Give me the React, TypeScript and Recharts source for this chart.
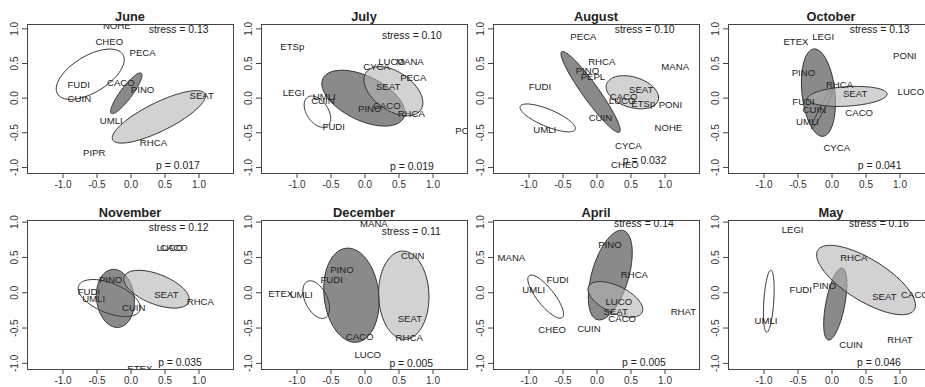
import React from "react"
import { ScatterChart, Scatter, XAxis, YAxis } from "recharts"

// panel titles and statistics, in drawing order (top row, then bottom row)
const months = ["June", "July", "August", "October", "November", "December", "April", "May"]
const stressValues = ["0.13", "0.10", "0.10", "0.13", "0.12", "0.11", "0.14", "0.16"]
const pValues = ["0.017", "0.019", "0.032", "0.041", "0.035", "0.005", "0.005", "0.046"]
const stressAt = [[0.7, 0.99], [0.69, 0.9], [0.7, 0.99], [0.7, 0.99], [0.7, 0.925], [0.68, 0.865], [0.69, 0.985], [0.69, 0.98]]
const pAt = [[0.69, -0.97], [0.69, -0.98], [0.7, -0.9], [0.7, -0.97], [0.72, -0.99], [0.68, -0.995], [0.69, -0.98], [0.69, -0.985]]

const axisTicks = [-1, -0.5, 0, 0.5, 1]

// species scores (NMDS1, NMDS2)
const juneLabels = [
  { name: "NOHE", x: -0.21, y: 1.05 }, { name: "CHEO", x: -0.32, y: 0.81 }, { name: "PECA", x: 0.17, y: 0.66 },
  { name: "FUDI", x: -0.77, y: 0.2 }, { name: "CACO", x: -0.15, y: 0.23 }, { name: "PINO", x: 0.17, y: 0.12 },
  { name: "CUIN", x: -0.76, y: 0.0 }, { name: "SEAT", x: 1.04, y: 0.03 }, { name: "UMLI", x: -0.29, y: -0.32 },
  { name: "RHCA", x: 0.33, y: -0.64 }, { name: "PIPR", x: -0.54, y: -0.79 },
]
const julyLabels = [
  { name: "ETSp", x: -1.07, y: 0.74 }, { name: "CYCA", x: 0.17, y: 0.46 }, { name: "LUCO", x: 0.39, y: 0.52 },
  { name: "MANA", x: 0.66, y: 0.52 }, { name: "PECA", x: 0.71, y: 0.3 }, { name: "SEAT", x: 0.34, y: 0.165 },
  { name: "LEGI", x: -1.05, y: 0.08 }, { name: "UMLI", x: -0.6, y: 0.02 }, { name: "CUIN", x: -0.62, y: -0.04 },
  { name: "CACO", x: 0.32, y: -0.11 }, { name: "PINO", x: 0.07, y: -0.15 }, { name: "RHCA", x: 0.68, y: -0.23 },
  { name: "FUDI", x: -0.46, y: -0.41 }, { name: "PONI", x: 1.5, y: -0.47 },
]
const augustLabels = [
  { name: "PECA", x: -0.2, y: 0.89 }, { name: "RHCA", x: 0.07, y: 0.53 }, { name: "MANA", x: 1.15, y: 0.45 },
  { name: "PINO", x: -0.14, y: 0.39 }, { name: "PEPL", x: -0.06, y: 0.31 }, { name: "FUDI", x: -0.84, y: 0.17 },
  { name: "SEAT", x: 0.65, y: 0.13 }, { name: "CACO", x: 0.39, y: 0.02 }, { name: "LUCO", x: 0.37, y: -0.04 },
  { name: "ETSp", x: 0.68, y: -0.08 }, { name: "PONI", x: 1.08, y: -0.09 }, { name: "CUIN", x: 0.05, y: -0.28 },
  { name: "UMLI", x: -0.77, y: -0.45 }, { name: "NOHE", x: 1.05, y: -0.43 }, { name: "CYCA", x: 0.46, y: -0.68 },
  { name: "CHEO", x: 0.41, y: -0.96 },
]
const octoberLabels = [
  { name: "ETEX", x: -0.53, y: 0.81 }, { name: "LEGI", x: -0.13, y: 0.89 }, { name: "PONI", x: 1.07, y: 0.62 },
  { name: "PINO", x: -0.42, y: 0.37 }, { name: "RHCA", x: 0.11, y: 0.2 }, { name: "SEAT", x: 0.34, y: 0.07 },
  { name: "LUCO", x: 1.16, y: 0.1 }, { name: "FUDI", x: -0.42, y: -0.05 }, { name: "CUIN", x: -0.26, y: -0.16 },
  { name: "CACO", x: 0.4, y: -0.21 }, { name: "UMLI", x: -0.36, y: -0.34 }, { name: "CYCA", x: 0.07, y: -0.72 },
]
const novemberLabels = [
  { name: "LUCO", x: 0.57, y: 0.645 }, { name: "CACO", x: 0.63, y: 0.645 }, { name: "PINO", x: -0.3, y: 0.18 },
  { name: "FUDI", x: -0.62, y: 0.01 }, { name: "SEAT", x: 0.52, y: -0.03 }, { name: "UMLI", x: -0.55, y: -0.09 },
  { name: "RHCA", x: 1.02, y: -0.12 }, { name: "CUIN", x: 0.04, y: -0.21 }, { name: "ETEX", x: 0.13, y: -1.07 },
]
const decemberLabels = [
  { name: "MANA", x: 0.13, y: 0.985 }, { name: "CUIN", x: 0.7, y: 0.52 }, { name: "PINO", x: -0.34, y: 0.32 },
  { name: "FUDI", x: -0.49, y: 0.18 }, { name: "ETEX", x: -1.24, y: -0.01 }, { name: "UMLI", x: -0.94, y: -0.03 },
  { name: "SEAT", x: 0.66, y: -0.36 }, { name: "CACO", x: -0.08, y: -0.62 }, { name: "RHCA", x: 0.65, y: -0.64 },
  { name: "LUCO", x: 0.04, y: -0.87 },
]
const aprilLabels = [
  { name: "PINO", x: 0.19, y: 0.68 }, { name: "MANA", x: -1.26, y: 0.49 }, { name: "RHCA", x: 0.55, y: 0.25 },
  { name: "FUDI", x: -0.58, y: 0.18 }, { name: "UMLI", x: -0.93, y: 0.05 }, { name: "LUCO", x: 0.32, y: -0.12 },
  { name: "RHAT", x: 1.27, y: -0.27 }, { name: "SEAT", x: 0.275, y: -0.27 }, { name: "CACO", x: 0.37, y: -0.36 },
  { name: "CHEO", x: -0.66, y: -0.52 }, { name: "CUIN", x: -0.12, y: -0.51 },
]
const mayLabels = [
  { name: "LEGI", x: -0.58, y: 0.9 }, { name: "RHCA", x: 0.32, y: 0.5 }, { name: "PINO", x: -0.11, y: 0.1 },
  { name: "FUDI", x: -0.46, y: 0.05 }, { name: "SEAT", x: 0.77, y: -0.05 }, { name: "CACO", x: 1.22, y: -0.025 },
  { name: "UMLI", x: -0.97, y: -0.39 }, { name: "RHAT", x: 1.0, y: -0.66 }, { name: "CUIN", x: 0.28, y: -0.735 },
]

// ellipses: ends of major axis, then ends of minor axis (data units)
const juneEllipses = [
  { group: "open", axes: [[-1.08, 0.06], [-0.12, 0.63], [-0.46, 0.12], [-0.74, 0.57]] },
  { group: "dark", axes: [[-0.29, -0.22], [0.15, 0.36], [0.0, 0.02], [-0.14, 0.12]] },
  { group: "light", axes: [[-0.27, -0.6], [1.09, 0.06], [0.5, -0.45], [0.32, -0.08]] },
]
const julyEllipses = [
  { group: "open", axes: [[-0.85, 0.01], [-0.55, -0.4], [-0.57, -0.1], [-0.82, -0.29]] },
  { group: "dark", axes: [[-0.62, 0.28], [0.57, -0.28], [-0.16, -0.29], [0.11, 0.29]] },
  { group: "light", axes: [[0.015, 0.37], [0.82, -0.17], [0.26, -0.13], [0.58, 0.33]] },
]
const augustEllipses = [
  { group: "open", axes: [[-1.13, -0.12], [-0.32, -0.45], [-0.77, -0.4], [-0.68, -0.17]] },
  { group: "dark", axes: [[-0.52, 0.67], [0.33, -0.49], [-0.19, 0.02], [0.0, 0.16]] },
  { group: "light", axes: [[0.14, 0.2], [0.9, -0.03], [0.46, -0.13], [0.59, 0.29]] },
]
const octoberEllipses = [
  { group: "open", axes: [[0.01, 0.14], [-0.3, -0.44], [-0.11, -0.166], [-0.17, -0.134]] },
  { group: "dark", axes: [[-0.27, 0.71], [-0.13, -0.55], [0.04, 0.11], [-0.44, 0.05]] },
  { group: "light", axes: [[-0.36, -0.01], [0.81, 0.06], [0.23, -0.12], [0.22, 0.16]] },
]
const novemberEllipses = [
  { group: "open", axes: [[-0.77, 0.1], [0.13, -0.25], [-0.4, -0.27], [-0.235, 0.12]] },
  { group: "dark", axes: [[-0.28, 0.33], [-0.18, -0.49], [0.04, -0.04], [-0.51, -0.105]] },
  { group: "light", axes: [[-0.1, 0.23], [0.85, -0.13], [0.29, -0.145], [0.45, 0.25]] },
]
const decemberEllipses = [
  { group: "open", axes: [[-0.85, 0.16], [-0.585, -0.355], [-0.57, -0.03], [-0.86, -0.17]] },
  { group: "dark", axes: [[-0.28, 0.63], [-0.12, -0.7], [0.2, 0.01], [-0.6, -0.08]] },
  { group: "light", axes: [[0.55, 0.59], [0.59, -0.66], [0.94, -0.03], [0.2, -0.05]] },
]
const aprilEllipses = [
  { group: "open", axes: [[-1.0, 0.24], [-0.51, -0.35], [-0.66, 0.024], [-0.85, -0.135]] },
  { group: "dark", axes: [[0.39, 0.88], [0.0, -0.38], [0.45, 0.17], [-0.065, 0.33]] },
  { group: "light", axes: [[-0.125, 0.087], [0.665, -0.275], [0.19, -0.27], [0.35, 0.08]] },
]
const mayEllipses = [
  { group: "open", axes: [[-0.9, 0.32], [-0.96, -0.56], [-0.854, -0.12], [-1.0, -0.12]] },
  { group: "dark", axes: [[0.15, 0.35], [-0.054, -0.67], [0.185, -0.186], [-0.088, -0.135]] },
  { group: "light", axes: [[-0.21, 0.6], [1.21, -0.24], [0.34, -0.075], [0.65, 0.435]] },
]

const panelLabels = [juneLabels, julyLabels, augustLabels, octoberLabels, novemberLabels, decemberLabels, aprilLabels, mayLabels]
const panelEllipses = [juneEllipses, julyEllipses, augustEllipses, octoberEllipses, novemberEllipses, decemberEllipses, aprilEllipses, mayEllipses]

const FONT = '"Liberation Sans", Arial, Helvetica, sans-serif'
const PANEL_LEFT = [0, 234, 466, 701]
const ROW_TOP = [0, 196]
const W = 234
const H = 193
const X_DOMAIN = [-1.53, 1.5]
const Y_DOMAINS = [[-1.08, 1.07], [-1.08, 1.03]]

const groupStyle: Record<string, { fill: string }> = {
  open: { fill: "none" },
  dark: { fill: "rgba(60,60,60,0.6)" },
  light: { fill: "rgba(180,180,180,0.6)" },
}

// ellipse through conjugate semi-axes in pixel space
function ellipsePath(points: any[]) {
  const [a, b, c, d] = points
  const cx = (a.x + b.x) / 2
  const cy = (a.y + b.y) / 2
  const ux = (b.x - a.x) / 2
  const uy = (b.y - a.y) / 2
  const vx = (c.x - d.x) / 2
  const vy = (c.y - d.y) / 2
  let path = ""
  const n = 90
  for (let i = 0; i <= n; i++) {
    const t = (i / n) * Math.PI * 2
    const px = cx + ux * Math.cos(t) + vx * Math.sin(t)
    const py = cy + uy * Math.cos(t) + vy * Math.sin(t)
    path += (i === 0 ? "M" : "L") + px.toFixed(2) + "," + py.toFixed(2)
  }
  return path + "Z"
}

const YTick = (props: any) => {
  const { x, y, payload } = props
  return (
    <text transform={`translate(${x - 2},${y}) rotate(-90)`} textAnchor="middle" fontSize={10} fill="#333">
      {Number(payload.value).toFixed(1)}
    </text>
  )
}

const makeTextShape = (size: number, color: string) => (props: any) => (
  <text x={props.cx} y={props.cy} dy="0.35em" textAnchor="middle" fontSize={size} fill={color}>
    {props.payload.name}
  </text>
)

const labelShape = makeTextShape(9.6, "#222")
const noteShape = makeTextShape(10.4, "#222")
const noShape = () => <g />

function Panel({ index }: { index: number }) {
  const row = index < 4 ? 0 : 1
  const left = PANEL_LEFT[index % 4]
  const top = ROW_TOP[row]
  const yDomain = Y_DOMAINS[row]
  const notes = [
    { name: `stress = ${stressValues[index]}`, x: stressAt[index][0], y: stressAt[index][1] },
    { name: `p = ${pValues[index]}`, x: pAt[index][0], y: pAt[index][1] },
  ]

  return (
    <div style={{ position: "absolute", left, top, width: W, height: H }}>
      <div
        style={{
          position: "absolute",
          left: 27,
          width: 206,
          top: 9,
          textAlign: "center",
          fontWeight: "bold",
          fontSize: 12.8,
          lineHeight: "16px",
          color: "#222",
        }}
      >
        {months[index]}
      </div>
      {/* plot frame */}
      <div
        style={{
          position: "absolute",
          left: 26.5,
          top: 23.5,
          width: 207,
          height: 150,
          boxSizing: "border-box",
          border: "1px solid #444",
          pointerEvents: "none",
        }}
      />
      <ScatterChart width={W} height={H} margin={{ top: 24, right: 1, bottom: 0, left: 0 }}>
        <XAxis
          type="number"
          dataKey="x"
          domain={X_DOMAIN}
          ticks={axisTicks}
          interval={0}
          allowDataOverflow
          axisLine={false}
          tickSize={5}
          tickMargin={2.5}
          height={20}
          tickLine={{ stroke: "#444" }}
          tick={{ fontSize: 10, fill: "#333" }}
          tickFormatter={(v: number) => v.toFixed(1)}
        />
        <YAxis
          type="number"
          dataKey="y"
          domain={yDomain}
          ticks={axisTicks}
          interval={0}
          allowDataOverflow
          axisLine={false}
          tickSize={5}
          tickMargin={2}
          width={27}
          tickLine={{ stroke: "#444" }}
          tick={<YTick />}
        />
        {panelEllipses[index].map((e, i) => (
          <Scatter
            key={"e" + i}
            data={e.axes.map(([x, y]) => ({ x, y }))}
            isAnimationActive={false}
            shape={noShape}
            line={(lp: any) => (
              <path d={ellipsePath(lp.points)} fill={groupStyle[e.group].fill} stroke="#333" strokeWidth={1} />
            )}
          />
        ))}
        <Scatter data={panelLabels[index]} isAnimationActive={false} shape={labelShape} />
        <Scatter data={notes} isAnimationActive={false} shape={noteShape} />
      </ScatterChart>
    </div>
  )
}

export default function App() {
  return (
    <div
      style={{
        position: "absolute",
        left: 0,
        top: 0,
        width: 925,
        height: 387,
        overflow: "hidden",
        background: "#fff",
        fontFamily: FONT,
      }}
    >
      {months.map((m, i) => (
        <Panel key={m} index={i} />
      ))}
    </div>
  )
}
